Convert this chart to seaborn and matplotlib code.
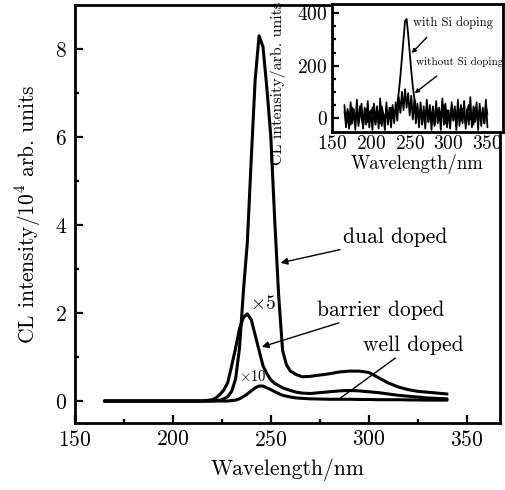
import matplotlib
matplotlib.use("Agg")
import matplotlib.pyplot as plt
import seaborn as sns
import pandas as pd

# ---------------- main panel data (intensity in 10^4 arb. units) ----------------
wavelength = [165, 180, 200, 215, 220, 222, 224, 226, 228, 230, 232, 234, 236, 238, 240,
              242, 244, 246, 248, 250, 252, 254, 256, 258, 260, 263, 266, 270, 275, 280,
              285, 290, 295, 300, 305, 310, 315, 320, 325, 330, 335, 340]
dual_doped = [0.0, 0.0, 0.0, 0.0, 0.0, 0.01, 0.02, 0.05, 0.1, 0.22, 0.5, 1.2, 2.5, 3.6, 5.5,
              7.3, 8.3, 8.05, 7.1, 6.0, 4.1, 2.4, 1.15, 0.82, 0.68, 0.6, 0.55, 0.56, 0.59, 0.62,
              0.66, 0.68, 0.68, 0.65, 0.53, 0.41, 0.32, 0.26, 0.22, 0.2, 0.18, 0.16]
barrier_doped = [0.0, 0.0, 0.0, 0.0, 0.03, 0.07, 0.15, 0.25, 0.42, 0.8, 1.2, 1.64, 1.9, 1.98, 1.85,
                 1.5, 1.15, 0.8, 0.62, 0.48, 0.4, 0.35, 0.3, 0.27, 0.24, 0.2, 0.18, 0.17, 0.19, 0.21,
                 0.23, 0.24, 0.23, 0.21, 0.19, 0.16, 0.13, 0.11, 0.09, 0.07, 0.06, 0.05]
well_doped = [0.0, 0.0, 0.0, 0.0, 0.0, 0.0, 0.0, 0.0, 0.0, 0.01, 0.02, 0.05, 0.1, 0.16, 0.23,
              0.3, 0.34, 0.34, 0.3, 0.26, 0.21, 0.17, 0.13, 0.11, 0.09, 0.07, 0.06, 0.05, 0.045, 0.04,
              0.04, 0.04, 0.035, 0.035, 0.03, 0.03, 0.03, 0.025, 0.025, 0.02, 0.02, 0.02]

main_xticks = [150, 200, 250, 300, 350]
main_yticks = [0, 2, 4, 6, 8]

# ---------------- inset data (arb. units) ----------------
inset_wl = list(range(166, 352, 2))
with_si = [25, -15, 35, 5, -25, 40, 10, -20, 30, -10, 45, 0, -30, 20, 35, -15, 25, -5, 40, 10,
           -25, 30, 5, -20, 45, 15, -10, 35, -5, 20, 40, 0, 25,
           30, 55, 100, 160, 230, 300, 370, 378, 320, 250, 180, 120, 75, 40, 20,
           10, 35, -20, 25, 5, 40, -15, 30, 0, 45, -25, 20, 35, -10, 25, 5, 50, -20, 30, 10,
           -15, 40, 0, 25, -30, 45, 15, -10, 35, 5, -20, 30, 50, -5, 20, -25, 40, 10, -15, 35,
           0, 25, -20, 45, 15]
without_si = [50, -35, 20, -40, 60, -20, 35, -45, 70, -30, 15, 55, -40, 40, -25, 65, -35, 30, -45, 55,
              -15, 45, -40, 75, -30, 20, -45, 60, -25, 40, -35, 50, -20,
              60, -10, 80, 20, 100, 30, 110, 40, 95, 10, 85, -5, 70, -20, 55,
              -35, 60, -25, 45, -40, 70, -15, 50, -45, 35, -30, 65, -20, 40, -45, 75, -25, 55, -35, 30,
              -40, 60, -10, 45, -45, 70, -30, 50, -20, 65, -40, 35, -25, 80, -35, 45, -15, 60, -45, 55,
              -30, 40, -20, 70, -35]
inset_xticks = [150, 200, 250, 300, 350]
inset_yticks = [0, 200, 400]

# ---------------- style ----------------
sns.set_theme(style="ticks")
plt.rcParams.update({
    "font.family": ["cmr10", "DejaVu Serif"],
    "mathtext.fontset": "cm",
    "axes.formatter.use_mathtext": True,
    "axes.unicode_minus": False,
    "axes.edgecolor": "black",
    "text.color": "black",
    "axes.labelcolor": "black",
    "xtick.color": "black",
    "ytick.color": "black",
})

fig = plt.figure(figsize=(5.05, 4.9), dpi=100)
ax = fig.add_axes([0.1485, 0.1367, 0.8415, 0.8531])

main_df = pd.DataFrame({"wl": wavelength, "dual": dual_doped,
                        "barrier": barrier_doped, "well": well_doped})
for col in ["well", "barrier", "dual"]:
    sns.lineplot(data=main_df, x="wl", y=col, ax=ax, color="black", lw=2.2,
                 estimator=None, sort=False)

ax.set_xlim(150, 367)
ax.set_ylim(-0.5, 9.0)
ax.set_xticks(main_xticks)
ax.set_yticks(main_yticks)
ax.set_xticks([175, 225, 275, 325], minor=True)
ax.set_yticks([1, 3, 5, 7], minor=True)
ax.tick_params(which="both", direction="in", width=1.6, labelsize=15.5, top=False, right=False)
ax.tick_params(which="major", length=6)
ax.tick_params(which="minor", length=3)
ax.tick_params(axis="x", pad=5)
ax.tick_params(axis="y", pad=6)
for s in ax.spines.values():
    s.set_linewidth(2.0)
    s.set_visible(True)
ax.set_xlabel("Wavelength/nm", fontsize=15.5, labelpad=6)
ax.set_ylabel(r"CL intensity/$10^4$ arb. units", fontsize=15.5, labelpad=8)

arrow = dict(arrowstyle="-|>", color="black", lw=1.0, mutation_scale=10, shrinkA=0, shrinkB=0)
ax.annotate("dual doped", xy=(255, 3.14), xytext=(287, 3.5), fontsize=15.5,
            ha="left", va="bottom", arrowprops=arrow)
ax.annotate("barrier doped", xy=(245.4, 1.23), xytext=(273.5, 1.85), fontsize=15.5,
            ha="left", va="bottom", arrowprops=arrow)
ax.annotate("well doped", xy=(285, 0.05), xytext=(297, 1.05), fontsize=15.5,
            ha="left", va="bottom", arrowprops=dict(arrowstyle="-", color="black", lw=1.0,
                                                    shrinkA=0, shrinkB=0))
ax.text(246, 2.2, r"$\times$5", fontsize=14, ha="center", va="center")
ax.text(240.5, 0.55, r"$\times$10", fontsize=10.5, ha="center", va="center")

# ---------------- inset ----------------
ins = fig.add_axes([0.6574, 0.7306, 0.3386, 0.2612])
ins.set_facecolor("white")
inset_df = pd.DataFrame({"wl": inset_wl, "with": with_si, "without": without_si})
sns.lineplot(data=inset_df, x="wl", y="without", ax=ins, color="black", lw=1.3,
             estimator=None, sort=False)
sns.lineplot(data=inset_df, x="wl", y="with", ax=ins, color="black", lw=1.3,
             estimator=None, sort=False)
ins.set_xlim(150, 370)
ins.set_ylim(-53, 435)
ins.set_xticks(inset_xticks)
ins.set_yticks(inset_yticks)
ins.set_yticks([50, 100, 150, 250, 300, 350], minor=True)
ins.tick_params(axis="x", which="both", length=0, pad=2, labelsize=14)
ins.tick_params(axis="y", which="both", direction="in", width=1.6, labelsize=14, pad=3, right=False)
ins.tick_params(axis="y", which="major", length=5)
ins.tick_params(axis="y", which="minor", length=3)
for s in ins.spines.values():
    s.set_linewidth(2.0)
    s.set_visible(True)
ins.set_xlabel("Wavelength/nm", fontsize=13.5, labelpad=1)
ins.set_ylabel("CL intensity/arb. units", fontsize=11.5)
ins.yaxis.set_label_coords(-0.27, 0.38)

small_arrow = dict(arrowstyle="-|>", color="black", lw=1.0, mutation_scale=6, shrinkA=0, shrinkB=0)
ins.text(254, 362, "with Si doping", fontsize=9, ha="left", va="center")
ins.annotate("", xy=(252.6, 248), xytext=(272, 308), arrowprops=small_arrow)
ins.text(257.5, 213, "without Si doping", fontsize=8, ha="left", va="center")
ins.annotate("", xy=(256.4, 95), xytext=(284.6, 160), arrowprops=small_arrow)

fig.savefig("out.png", dpi=100)
